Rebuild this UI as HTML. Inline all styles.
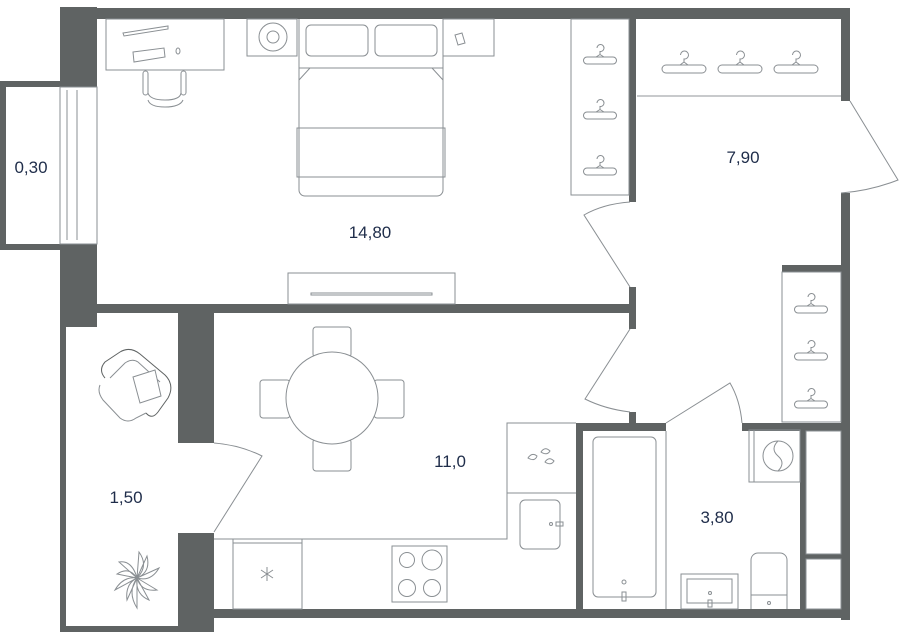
<!DOCTYPE html>
<html><head><meta charset="utf-8"><style>
html,body{margin:0;padding:0;background:#fff}
svg{display:block}
text{font-family:"Liberation Sans",sans-serif;font-size:17px;fill:#1f2d4a}
</style></head><body>
<svg width="900" height="633" viewBox="0 0 900 633" xmlns="http://www.w3.org/2000/svg">
<defs>
<g id="h" fill="none" stroke="#8a8f93" stroke-width="1">
<path d="M-3.5,-10 a4,4 0 1 1 3.5,4 v3 M0,-3 L-4,0 M0,-3 L4,0"/>
<rect x="-22" y="0" width="44" height="8" rx="4"/>
</g>
<g id="hs" fill="none" stroke="#8a8f93" stroke-width="1">
<path d="M-3,-9 a3.5,3.5 0 1 1 3,3.5 v3 M0,-2.5 L-4,0 M0,-2.5 L4,0"/>
<rect x="-16.5" y="0" width="33" height="7" rx="3.5"/>
</g>
</defs>
<g fill="#5f6363">
<rect x="60" y="8" width="790" height="11"/>
<rect x="60" y="7" width="37" height="80"/>
<rect x="60" y="244" width="37" height="83"/>
<rect x="0" y="81" width="60" height="6"/>
<rect x="0" y="81" width="6" height="169"/>
<rect x="0" y="244" width="60" height="6"/>
<rect x="60" y="304" width="576" height="9"/>
<rect x="60" y="313" width="6" height="319"/>
<rect x="60" y="626" width="154" height="6"/>
<rect x="178" y="313" width="36" height="130"/>
<rect x="178" y="533" width="36" height="99"/>
<rect x="214" y="609" width="636" height="9"/>
<rect x="841" y="8" width="9" height="93"/>
<rect x="841" y="193" width="9" height="427"/>
<rect x="629" y="19" width="7" height="183"/>
<rect x="629" y="287" width="7" height="42"/>
<rect x="629" y="412" width="7" height="14"/>
<rect x="782" y="265" width="59" height="7"/>
<rect x="576" y="423" width="90" height="8"/>
<rect x="576" y="423" width="7" height="190"/>
<rect x="742" y="423" width="99" height="8"/>
<rect x="800" y="430" width="6" height="182"/>
<rect x="806" y="554" width="35" height="5"/>
</g>
<g fill="none" stroke="#8a8f93" stroke-width="1">
<rect x="60" y="87" width="37" height="157"/>
<line x1="67" y1="90" x2="67" y2="240"/><line x1="77" y1="90" x2="77" y2="240"/>
<rect x="106" y="19" width="118" height="51"/>
<path d="M123,33 L168,26 L168,29 L124,36 Z"/>
<path d="M133,52 L164,48 L165,57 L134,62 Z"/>
<ellipse cx="178" cy="51" rx="2" ry="3"/>
<rect x="143" y="71" width="5" height="24" rx="2.5"/><rect x="181" y="71" width="5" height="24" rx="2.5"/>
<path d="M148,93 Q150,100 165,100 Q180,100 181,93"/>
<path d="M148,100 Q150,107 165,107 Q180,107 183,100"/>
<rect x="247" y="19" width="50" height="37"/>
<circle cx="273" cy="37" r="14"/><circle cx="273" cy="37" r="6"/>
<rect x="443" y="19" width="51" height="37"/>
<path d="M455,35 L462,33 L465,43 L458,45 Z"/>
<path d="M299,19 V190 a6,6 0 0 0 6,6 H437 a6,6 0 0 0 6,-6 V19"/>
<line x1="299" y1="68" x2="443" y2="68"/>
<path d="M299,68 L310,68 L299,80 M443,68 L432,68 L443,80"/>
<rect x="306" y="25" width="62" height="31" rx="5"/>
<rect x="375" y="25" width="62" height="31" rx="5"/>
<rect x="297" y="128" width="148" height="49"/>
<rect x="288" y="273" width="167" height="31"/>
<rect x="311" y="293" width="121" height="2"/>
<rect x="571" y="19" width="58" height="176"/>
<line x1="637" y1="96" x2="841" y2="96" stroke="#b5b9bc" stroke-width="1.5"/>
<rect x="782" y="272" width="59" height="150"/>
<path d="M850,101 L898,180 Q870,191 841,193"/>
<path d="M630,202 Q603,204 584,215 L630,287"/>
<path d="M630,329 L585,399 Q605,409 630,412"/>
<path d="M214,443 Q240,445 262,456 L214,532"/>
<path d="M666,423 L730,383 Q740,400 742,423"/>
<path d="M105,378 Q98,370 105,362 L120,352 Q130,346 140,354 L165,375 Q175,385 168,398 L158,412 Q152,420 146,413" stroke="#5f6363"/>
<path d="M110,378 L125,363 Q132,358 138,362 L160,382"/>
<path d="M100,385 Q97,392 103,400 L120,418 Q128,424 136,418 L146,413"/>
<path d="M133,377 L155,370 L161,396 L140,403 Z" fill="#fff"/>
<g transform="translate(137,578)">
<path d="M0,0 L-18,-16 Q-5,-18 0,0 M0,0 L2,-26 Q12,-12 0,0 M0,0 L22,-10 Q14,4 0,0 M0,0 L20,12 Q4,14 0,0 M0,0 L0,30 Q-10,14 0,0 M0,0 L-22,12 Q-14,-2 0,0 M0,0 L-20,-4 Q-8,-12 0,0 M0,0 L10,-22 Q14,-6 0,0 M0,0 L12,22 Q-2,16 0,0 M0,0 L-10,22 Q-12,6 0,0"/>
</g>
<rect x="313" y="327" width="38" height="30" rx="3"/>
<rect x="313" y="439" width="38" height="32" rx="3"/>
<rect x="260" y="380" width="30" height="38" rx="3"/>
<rect x="374" y="380" width="30" height="38" rx="3"/>
<circle cx="332" cy="398" r="46" fill="#fff"/>
<path d="M214,539 H507 V423 H576"/>
<line x1="507" y1="493" x2="576" y2="493"/>
<rect x="233" y="539" width="69" height="70"/><line x1="233" y1="543" x2="302" y2="543"/>
<path d="M267,567 V581 M261,570 L273,578 M273,570 L261,578"/>
<rect x="392" y="546" width="55" height="56"/>
<circle cx="407" cy="560" r="7.5"/><circle cx="432" cy="560" r="10"/>
<circle cx="407" cy="588" r="8.5"/><circle cx="432" cy="588" r="8.5"/>
<path d="M528,458 q4,-6 9,-2 q-2,6 -9,2 Z M541,452 q4,-6 9,-1 q-3,5 -9,1 Z M545,462 q4,-6 9,-1 q-3,5 -9,1 Z"/>
<rect x="520" y="500" width="40" height="49" rx="5"/>
<circle cx="551" cy="524" r="1.5"/><rect x="556" y="522" width="7" height="4"/>
<line x1="666" y1="431" x2="666" y2="609"/>
<rect x="593" y="437" width="63" height="160" rx="5"/>
<circle cx="624" cy="582" r="2"/><rect x="622" y="592" width="4" height="9"/>
<rect x="681" y="574" width="57" height="35"/><rect x="687" y="579" width="45" height="24"/>
<circle cx="710" cy="593" r="1.5"/><rect x="708" y="600" width="4" height="7"/>
<path d="M751,609 V560 a7,7 0 0 1 7,-7 H780 a7,7 0 0 1 7,7 V609 M751,595 H787"/>
<circle cx="769" cy="603" r="1.5"/>
<rect x="749" y="430" width="51" height="52"/><line x1="754" y1="430" x2="754" y2="482"/>
<circle cx="778" cy="456" r="15"/>
<path d="M778,441 q-8,8 0,15 q8,7 0,15"/>
<rect x="806" y="431" width="35" height="123"/>
<rect x="806" y="559" width="35" height="50"/>
</g>
<use href="#h" x="684" y="65"/><use href="#h" x="740" y="65"/><use href="#h" x="796" y="65"/>
<use href="#hs" x="600" y="57"/><use href="#hs" x="600" y="112"/><use href="#hs" x="600" y="168"/>
<use href="#hs" x="811" y="306"/><use href="#hs" x="811" y="353"/><use href="#hs" x="811" y="401"/>
<text x="31" y="173" text-anchor="middle">0,30</text>
<text x="370" y="238" text-anchor="middle">14,80</text>
<text x="743" y="163" text-anchor="middle">7,90</text>
<text x="126" y="503" text-anchor="middle">1,50</text>
<text x="450" y="467" text-anchor="middle">11,0</text>
<text x="717" y="523" text-anchor="middle">3,80</text>
</svg>
</body></html>
